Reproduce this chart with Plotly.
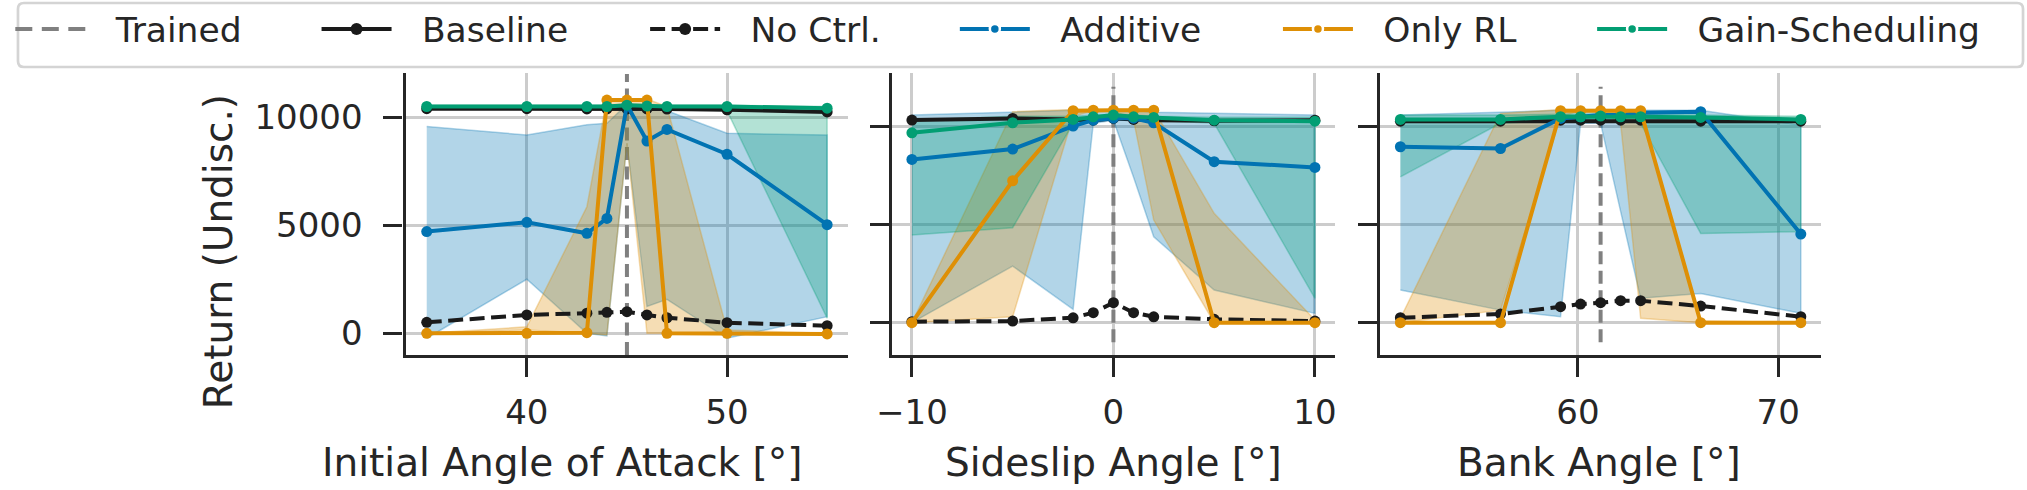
import plotly.graph_objects as go

W, H = 2027, 490

# ---------------- data ----------------
X_AOA = [35, 40, 43, 44, 45, 46, 47, 50, 55]
X_SIDESLIP = [-10, -5, -2, -1, 0, 1, 2, 5, 10]
X_BANK = [51.13, 56.13, 59.13, 60.13, 61.13, 62.13, 63.13, 66.13, 71.13]
TRAINED_X = [45, 0, 61.13]
TRAINED_Y = [-1000, 12000]

XLABELS = ["Initial Angle of Attack [°]", "Sideslip Angle [°]", "Bank Angle [°]"]
YLABEL = "Return (Undisc.)"
SERIES_NAMES = ["Trained", "Baseline", "No Ctrl.", "Additive", "Only RL", "Gain-Scheduling"]
XTICKS = [[40, 50], [-10, 0, 10], [60, 70]]
YTICKS = [0, 5000, 10000]
YTICK_TEXT = ["0", "5000", "10000"]

# Panel 1: initial angle of attack
AOA_BASELINE = [10400, 10400, 10390, 10390, 10390, 10390, 10380, 10350, 10250]
AOA_NOCTRL = [510, 850, 930, 970, 1000, 850, 720, 490, 350]
AOA_ADD = [4710, 5140, 4630, 5320, 10570, 8900, 9440, 8290, 5030]
AOA_ADD_LO = [-230, 2500, 0, -120, 8800, 1240, 1570, -230, 770]
AOA_ADD_HI = [9570, 9180, 9650, 9720, 10600, 10450, 10300, 9260, 9180]
AOA_RL = [0, 0, 30, 10800, 10800, 10800, 0, 0, -30]
AOA_RL_LO = [0, 150, 0, -80, 8800, 0, 0, 0, -30]
AOA_RL_HI = [0, 300, 5860, 10850, 10850, 10850, 10500, 150, 0]
AOA_GAIN = [10500, 10500, 10500, 10500, 10560, 10520, 10500, 10500, 10420]
AOA_GAIN_LO = [10400, 10400, 10400, 10400, 10450, 10400, 10400, 10300, 700]
AOA_GAIN_HI = [10560, 10560, 10560, 10560, 10620, 10580, 10560, 10560, 10500]

# Panel 2: sideslip angle
SS_BASELINE = [10305, 10390, 10340, 10300, 10390, 10340, 10300, 10270, 10300]
SS_NOCTRL = [50, 85, 250, 510, 1020, 510, 300, 170, 85]
SS_ADD = [8305, 8830, 10000, 10300, 10400, 10400, 10170, 8190, 7900]
SS_ADD_LO = [0, 2880, 680, 10140, 10300, 7400, 4370, 1660, 475]
SS_ADD_HI = [10560, 10730, 10800, 10800, 10800, 10800, 10700, 10650, 10560]
SS_RL = [0, 7220, 10780, 10810, 10810, 10810, 10810, 0, 0]
SS_RL_LO = [0, 300, 10500, 10780, 10800, 10300, 5220, 0, 0]
SS_RL_HI = [0, 10730, 10850, 10850, 10850, 10850, 10850, 5560, 135]
SS_GAIN = [9660, 10170, 10340, 10470, 10560, 10470, 10440, 10300, 10250]
SS_GAIN_LO = [4460, 4830, 10140, 10400, 10500, 10400, 10300, 10140, 1240]
SS_GAIN_HI = [10300, 10500, 10500, 10560, 10600, 10560, 10500, 10450, 10450]

# Panel 3: bank angle
BK_BASELINE = [10250, 10250, 10300, 10300, 10300, 10300, 10300, 10250, 10250]
BK_NOCTRL = [254, 441, 814, 949, 1017, 1119, 1119, 847, 305]
BK_ADD = [8950, 8860, 10390, 10470, 10560, 10560, 10680, 10730, 4510]
BK_ADD_LO = [1660, 640, 305, 10140, 10140, 5660, 1240, 1490, 475]
BK_ADD_HI = [10560, 10730, 10800, 10800, 10800, 10800, 10800, 10800, 10050]
BK_RL = [0, 0, 10780, 10780, 10780, 10780, 10780, 0, 0]
BK_RL_LO = [0, 640, 10480, 10780, 10780, 10140, 220, 0, 0]
BK_RL_HI = [220, 10640, 10850, 10850, 10850, 10850, 10850, 100, 0]
BK_GAIN = [10340, 10340, 10475, 10475, 10510, 10475, 10475, 10440, 10340]
BK_GAIN_LO = [7420, 10140, 10300, 10300, 10300, 10300, 10140, 4540, 4630]
BK_GAIN_HI = [10560, 10560, 10600, 10600, 10600, 10600, 10600, 10560, 10500]

PANELS = [
    dict(x=X_AOA, base=AOA_BASELINE, noctrl=AOA_NOCTRL,
         add=(AOA_ADD, AOA_ADD_LO, AOA_ADD_HI), rl=(AOA_RL, AOA_RL_LO, AOA_RL_HI),
         gain=(AOA_GAIN, AOA_GAIN_LO, AOA_GAIN_HI)),
    dict(x=X_SIDESLIP, base=SS_BASELINE, noctrl=SS_NOCTRL,
         add=(SS_ADD, SS_ADD_LO, SS_ADD_HI), rl=(SS_RL, SS_RL_LO, SS_RL_HI),
         gain=(SS_GAIN, SS_GAIN_LO, SS_GAIN_HI)),
    dict(x=X_BANK, base=BK_BASELINE, noctrl=BK_NOCTRL,
         add=(BK_ADD, BK_ADD_LO, BK_ADD_HI), rl=(BK_RL, BK_RL_LO, BK_RL_HI),
         gain=(BK_GAIN, BK_GAIN_LO, BK_GAIN_HI)),
]

# ---------------- style ----------------
FONT = "DejaVu Sans"
TXT = "#262626"
BLACK = "#1a1a1a"
GREY = "#808080"
COLORS = {"add": (1, 115, 178), "rl": (222, 143, 5), "gain": (2, 158, 115)}

def rgb(c, a=None):
    return f"rgb({c[0]},{c[1]},{c[2]})" if a is None else f"rgba({c[0]},{c[1]},{c[2]},{a})"

X_DOM_PX = [(393, 839), (884, 1330.5), (1376, 1821)]
X_RANGES = [[33.94, 56.02], [-10.98, 10.98], [50.1, 72.13]]
Y_RANGES = [[-1005, 12065], [-1643, 12716], [-1643, 12716]]
Y_DOM = [1 - 355 / H, 1 - 72.7 / H]

fig = go.Figure()
LW = 4
MS = 11

def axes_of(i):
    return ("x" if i == 0 else f"x{i+1}", "y" if i == 0 else f"y{i+1}")

# trained reference lines (bottom)
for i, p in enumerate(PANELS):
    xa, ya = axes_of(i)
    fig.add_trace(go.Scatter(x=[TRAINED_X[i], TRAINED_X[i]], y=TRAINED_Y, mode="lines",
                             line=dict(color=GREY, width=4, dash="13px,6.5px"),
                             xaxis=xa, yaxis=ya, showlegend=False, hoverinfo="skip"))
# bands
for i, p in enumerate(PANELS):
    xa, ya = axes_of(i)
    xs = p["x"]
    for key in ["add", "rl", "gain"]:
        mean, lo, hi = p[key]
        c = COLORS[key]
        fig.add_trace(go.Scatter(x=list(xs) + list(xs)[::-1], y=list(hi) + list(lo)[::-1],
                                 mode="lines", fill="toself", fillcolor=rgb(c, 0.3),
                                 line=dict(color=rgb(c, 0.3), width=1.5),
                                 xaxis=xa, yaxis=ya, showlegend=False, hoverinfo="skip"))
# lines
for i, p in enumerate(PANELS):
    xa, ya = axes_of(i)
    xs = p["x"]
    fig.add_trace(go.Scatter(x=xs, y=p["base"], mode="lines+markers",
                             line=dict(color=BLACK, width=LW),
                             marker=dict(color=BLACK, size=MS),
                             xaxis=xa, yaxis=ya, showlegend=False))
    fig.add_trace(go.Scatter(x=xs, y=p["noctrl"], mode="lines+markers",
                             line=dict(color=BLACK, width=LW, dash="15px,6.5px"),
                             marker=dict(color=BLACK, size=MS),
                             xaxis=xa, yaxis=ya, showlegend=False))
    for key in ["add", "rl", "gain"]:
        mean = p[key][0]
        c = COLORS[key]
        fig.add_trace(go.Scatter(x=xs, y=mean, mode="lines+markers",
                                 line=dict(color=rgb(c), width=LW),
                                 marker=dict(color=rgb(c), size=MS),
                                 xaxis=xa, yaxis=ya, showlegend=False))

# legend proxies, one legend each so that positions can match the reference
LEG_LINE_X = [15, 322, 655, 966, 1292, 1608]
LEG_TEXT_X = [117, 428, 758, 1072, 1398, 1716]
ITEMW = 70
LINE_OFF = 21
TEXT_OFF = 97 + 25.5
PAD = "\u00a0\u00a0\u200a"
small_marker = lambda c: dict(color=rgb(c), size=10, line=dict(color="white", width=2.5))
proxy_styles = [
    dict(mode="lines", line=dict(color=GREY, width=4, dash="17px,9.5px")),
    dict(mode="lines+markers", line=dict(color=BLACK, width=4), marker=dict(color=BLACK, size=12)),
    dict(mode="lines+markers", line=dict(color=BLACK, width=4, dash="15px,6.5px"), marker=dict(color=BLACK, size=12)),
    dict(mode="lines+markers", line=dict(color=rgb(COLORS["add"]), width=4), marker=small_marker(COLORS["add"])),
    dict(mode="lines+markers", line=dict(color=rgb(COLORS["rl"]), width=4), marker=small_marker(COLORS["rl"])),
    dict(mode="lines+markers", line=dict(color=rgb(COLORS["gain"]), width=4), marker=small_marker(COLORS["gain"])),
]
layout_legends = {}
for k, (name, st) in enumerate(zip(SERIES_NAMES, proxy_styles)):
    lname = "legend" if k == 0 else f"legend{k+1}"
    fig.add_trace(go.Scatter(x=[None], y=[None], name=PAD + name, showlegend=True,
                             legend=lname, **st))
    lx = ((LEG_LINE_X[k] - LINE_OFF) + (LEG_TEXT_X[k] - TEXT_OFF)) / 2
    layout_legends[lname] = dict(
        x=lx / W, xanchor="left", y=1 - 29 / H, yanchor="middle",
        xref="paper", yref="paper", orientation="h", bgcolor="rgba(0,0,0,0)",
        borderwidth=0, itemwidth=ITEMW, font=dict(family=FONT, size=34.5, color=TXT),
    )

axis_common = dict(showline=True, linecolor=TXT, linewidth=3.3, mirror=False,
                   ticks="outside", ticklen=19, tickwidth=3.3, tickcolor=TXT,
                   showgrid=True, gridcolor="#cccccc", gridwidth=2.7, zeroline=False,
                   tickfont=dict(family=FONT, size=34, color=TXT))
layout = dict(width=W, height=H, autosize=False, margin=dict(l=0, r=0, t=0, b=0),
              paper_bgcolor="white", plot_bgcolor="white", showlegend=True,
              font=dict(family=FONT, color=TXT))
for i in range(3):
    xn = "xaxis" if i == 0 else f"xaxis{i+1}"
    yn = "yaxis" if i == 0 else f"yaxis{i+1}"
    layout[xn] = dict(axis_common, domain=[X_DOM_PX[i][0] / W, X_DOM_PX[i][1] / W],
                      range=X_RANGES[i], tickmode="array", tickvals=XTICKS[i],
                      anchor="y" if i == 0 else f"y{i+1}", ticklabelstandoff=6)
    layout[yn] = dict(axis_common, domain=Y_DOM, range=Y_RANGES[i],
                      tickmode="array", tickvals=YTICKS, ticktext=YTICK_TEXT,
                      showticklabels=(i == 0), ticklabelstandoff=14,
                      anchor="x" if i == 0 else f"x{i+1}")
layout.update(layout_legends)

annotations = []
XLABEL_CX = [551, 1107, 1597]
for i in range(3):
    annotations.append(dict(text=XLABELS[i], x=XLABEL_CX[i] / W, y=1 - 462 / H,
                            xref="paper", yref="paper", xanchor="center", yanchor="middle",
                            showarrow=False, font=dict(family=FONT, size=39, color=TXT)))
annotations.append(dict(text=YLABEL, x=205 / W, y=1 - 252 / H, xref="paper", yref="paper",
                        xanchor="center", yanchor="middle", textangle=-90, showarrow=False,
                        font=dict(family=FONT, size=39, color=TXT)))
layout["annotations"] = annotations

# legend frame (rounded rectangle)
x0, x1, y0, y1, r = 2, 2025, 3, 67, 6
def px(x):
    return x / W
def py(y):
    return 1 - y / H
path = (f"M {px(x0+r)},{py(y0)} L {px(x1-r)},{py(y0)} Q {px(x1)},{py(y0)} {px(x1)},{py(y0+r)} "
        f"L {px(x1)},{py(y1-r)} Q {px(x1)},{py(y1)} {px(x1-r)},{py(y1)} "
        f"L {px(x0+r)},{py(y1)} Q {px(x0)},{py(y1)} {px(x0)},{py(y1-r)} "
        f"L {px(x0)},{py(y0+r)} Q {px(x0)},{py(y0)} {px(x0+r)},{py(y0)} Z")
layout["shapes"] = [dict(type="path", path=path, xref="paper", yref="paper",
                         line=dict(color="#d4d4d4", width=2.7), fillcolor="rgba(0,0,0,0)")]

fig.update_layout(**layout)
fig.write_html("out.html")
